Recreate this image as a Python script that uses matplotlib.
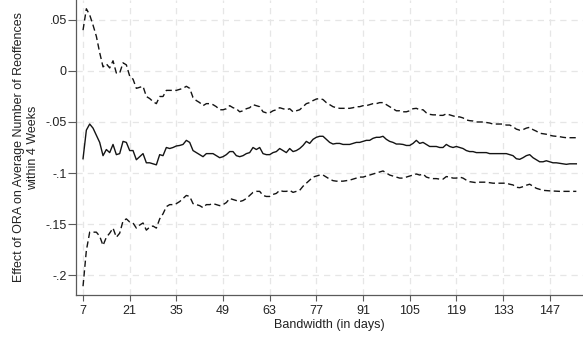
import matplotlib
matplotlib.use("Agg")
from matplotlib import pyplot as plt

# bandwidth (days) and estimates
days = list(range(7, 156))
effect = [
    -0.086, -0.058, -0.052, -0.056, -0.063, -0.070, -0.083, -0.077, -0.080, -0.072,
    -0.082, -0.081, -0.069, -0.070, -0.078, -0.078, -0.087, -0.084, -0.081, -0.090,
    -0.090, -0.091, -0.092, -0.082, -0.083, -0.075, -0.076, -0.075, -0.0735, -0.073,
    -0.072, -0.068, -0.070, -0.078, -0.080, -0.082, -0.084, -0.081, -0.081, -0.081,
    -0.083, -0.085, -0.084, -0.082, -0.079, -0.079, -0.083, -0.084, -0.083, -0.081,
    -0.080, -0.075, -0.077, -0.075, -0.081, -0.082, -0.082, -0.080, -0.079, -0.076,
    -0.078, -0.080, -0.076, -0.079, -0.078, -0.076, -0.073, -0.069, -0.071, -0.067,
    -0.065, -0.064, -0.064, -0.067, -0.070, -0.0716, -0.071, -0.071, -0.072, -0.072,
    -0.072, -0.071, -0.070, -0.070, -0.069, -0.068, -0.068, -0.066, -0.065, -0.065,
    -0.064, -0.067, -0.069, -0.070, -0.0716, -0.0716, -0.072, -0.073, -0.073, -0.071,
    -0.068, -0.071, -0.070, -0.072, -0.074, -0.074, -0.074, -0.075, -0.075, -0.072,
    -0.074, -0.075, -0.074, -0.075, -0.076, -0.078, -0.079, -0.079, -0.080, -0.080,
    -0.080, -0.080, -0.081, -0.081, -0.081, -0.081, -0.081, -0.081, -0.082, -0.083,
    -0.086, -0.0866, -0.085, -0.083, -0.082, -0.085, -0.087, -0.089, -0.089, -0.088,
    -0.089, -0.090, -0.090, -0.0905, -0.091, -0.0915, -0.091, -0.091, -0.091,
]
upper = [
    0.040, 0.061, 0.055, 0.045, 0.034, 0.018, 0.004, 0.007, 0.003, 0.010,
    -0.002, -0.002, 0.008, 0.006, -0.005, -0.008, -0.017, -0.016, -0.015, -0.025,
    -0.027, -0.030, -0.032, -0.025, -0.025, -0.019, -0.019, -0.019, -0.019, -0.018,
    -0.017, -0.015, -0.017, -0.026, -0.029, -0.031, -0.034, -0.032, -0.032, -0.033,
    -0.035, -0.038, -0.038, -0.037, -0.034, -0.036, -0.037, -0.040, -0.039, -0.037,
    -0.036, -0.033, -0.034, -0.035, -0.040, -0.041, -0.041, -0.039, -0.038, -0.036,
    -0.037, -0.038, -0.037, -0.040, -0.039, -0.038, -0.035, -0.032, -0.031, -0.029,
    -0.0275, -0.027, -0.028, -0.031, -0.033, -0.035, -0.036, -0.0366, -0.0366, -0.0366,
    -0.0366, -0.036, -0.035, -0.035, -0.034, -0.034, -0.033, -0.032, -0.032, -0.031,
    -0.031, -0.033, -0.035, -0.037, -0.039, -0.039, -0.040, -0.040, -0.039, -0.037,
    -0.0366, -0.038, -0.038, -0.041, -0.0425, -0.043, -0.043, -0.0435, -0.0435, -0.042,
    -0.043, -0.044, -0.045, -0.045, -0.046, -0.048, -0.0487, -0.049, -0.050, -0.050,
    -0.050, -0.0505, -0.051, -0.052, -0.052, -0.052, -0.052, -0.053, -0.053, -0.0546,
    -0.057, -0.058, -0.0575, -0.056, -0.0552, -0.0575, -0.059, -0.061, -0.0615, -0.062,
    -0.063, -0.0637, -0.064, -0.0644, -0.065, -0.0654, -0.0654, -0.0654, -0.0654,
]
lower = [
    -0.211, -0.176, -0.158, -0.158, -0.158, -0.162, -0.171, -0.163, -0.159, -0.154,
    -0.163, -0.159, -0.147, -0.145, -0.148, -0.149, -0.154, -0.151, -0.149, -0.156,
    -0.153, -0.152, -0.154, -0.145, -0.140, -0.133, -0.131, -0.131, -0.130, -0.128,
    -0.125, -0.122, -0.123, -0.130, -0.131, -0.132, -0.134, -0.131, -0.131, -0.130,
    -0.131, -0.132, -0.131, -0.129, -0.125, -0.126, -0.127, -0.128, -0.127, -0.125,
    -0.122, -0.119, -0.118, -0.118, -0.122, -0.123, -0.123, -0.121, -0.120, -0.117,
    -0.118, -0.118, -0.117, -0.119, -0.118, -0.117, -0.113, -0.110, -0.107, -0.104,
    -0.103, -0.102, -0.102, -0.104, -0.106, -0.1075, -0.108, -0.108, -0.108, -0.1075,
    -0.107, -0.106, -0.105, -0.104, -0.104, -0.103, -0.102, -0.101, -0.100, -0.099,
    -0.098, -0.100, -0.102, -0.103, -0.104, -0.105, -0.105, -0.104, -0.103, -0.102,
    -0.101, -0.102, -0.101, -0.104, -0.105, -0.1055, -0.1055, -0.106, -0.106, -0.1035,
    -0.104, -0.105, -0.105, -0.104, -0.105, -0.107, -0.1085, -0.109, -0.1095, -0.109,
    -0.109, -0.109, -0.1095, -0.110, -0.110, -0.110, -0.110, -0.110, -0.111, -0.1117,
    -0.114, -0.1144, -0.1134, -0.112, -0.111, -0.113, -0.115, -0.116, -0.117, -0.1173,
    -0.1175, -0.1177, -0.118, -0.118, -0.118, -0.118, -0.118, -0.118, -0.118,
]

x_ticks = [7, 21, 35, 49, 63, 77, 91, 105, 119, 133, 147]
y_ticks = [0.05, 0, -0.05, -0.1, -0.15, -0.2]
y_tick_labels = [".05", "0", "-.05", "-.1", "-.15", "-.2"]


def main():
    plt.rcParams["font.family"] = ["Liberation Sans", "DejaVu Sans"]
    fig = plt.figure(figsize=(5.83, 3.39), dpi=100)
    ax = fig.add_axes([0.1304, 0.1298, 0.8696, 0.8702])

    line_color = "#141414"
    ax.plot(days, upper, color=line_color, lw=1.0, ls=(0, (4.5, 2.5)))
    ax.plot(days, effect, color=line_color, lw=1.0)
    ax.plot(days, lower, color=line_color, lw=1.0, ls=(0, (4.5, 2.5)))

    ax.set_xlim(4.9, 157)
    ax.set_ylim(-0.2196, 0.0696)
    ax.set_xticks(x_ticks)
    ax.set_yticks(y_ticks)
    ax.set_yticklabels(y_tick_labels)

    ax.grid(True, color="#e6e6e6", ls=(0, (5, 4)), lw=0.9)
    ax.set_axisbelow(True)
    for side in ["top", "right"]:
        ax.spines[side].set_visible(False)
    for side in ["left", "bottom"]:
        ax.spines[side].set_color("#5a5a5a")
        ax.spines[side].set_linewidth(0.9)
    ax.tick_params(axis="both", width=0.8, color="#5a5a5a",
                   labelsize=9, labelcolor="#222222")
    ax.tick_params(axis="y", length=5.5, pad=1)
    ax.tick_params(axis="x", length=4, pad=3)

    ax.set_xlabel("Bandwidth (in days)", fontsize=9, color="#222222", labelpad=2)
    ax.set_ylabel("Effect of ORA on Average Number of Reoffences\nwithin 4 Weeks",
                  fontsize=9, color="#222222", linespacing=1.2, labelpad=5)

    fig.savefig("out.png", dpi=100)


if __name__ == "__main__":
    main()
